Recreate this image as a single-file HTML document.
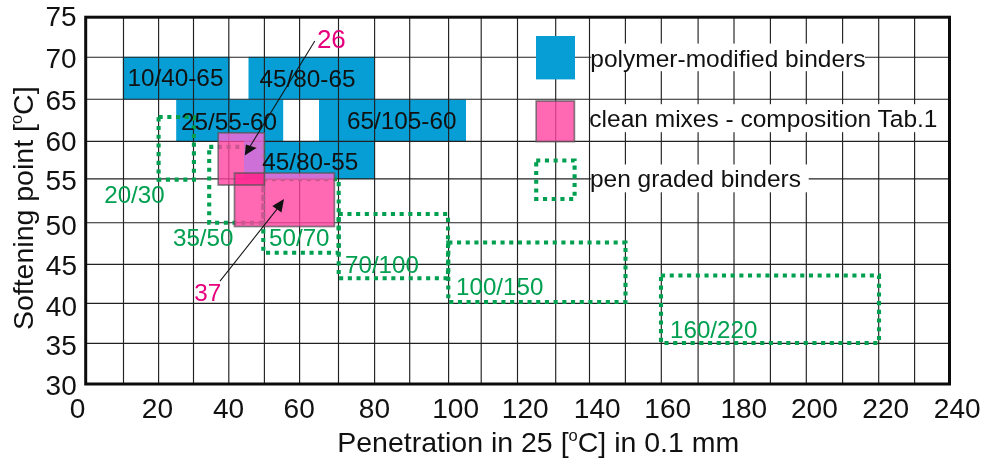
<!DOCTYPE html>
<html lang="en"><head><meta charset="utf-8"><title>Softening point vs penetration</title>
<style>html,body{margin:0;padding:0;background:#fff}svg{display:block}text{white-space:pre}</style></head>
<body><svg width="990" height="468" viewBox="0 0 990 468" style="will-change:transform">
<rect x="0" y="0" width="990" height="468" fill="#fff"/>
<rect x="122.8" y="56.8" width="106.9" height="42.7" fill="#069ed4"/>
<rect x="248.5" y="56.8" width="125.5" height="42.7" fill="#069ed4"/>
<rect x="176.2" y="99.5" width="107.0" height="41.5" fill="#069ed4"/>
<rect x="319.0" y="99.5" width="147.0" height="41.5" fill="#069ed4"/>
<rect x="244.0" y="141.0" width="130.0" height="38.0" fill="#069ed4"/>
<g stroke="#222" stroke-width="1.15" fill="none">
<path d="M123.5 17.2V384.0M158.6 17.2V384.0M193.5 17.2V384.0M228.8 17.2V384.0M264.4 17.2V384.0M299.6 17.2V384.0M338.5 17.2V384.0M374.6 17.2V384.0M409.7 17.2V384.0M448.6 17.2V384.0M481.2 17.2V384.0M517.5 17.2V384.0M555.7 17.2V384.0M589.5 17.2V384.0M625.4 17.2V384.0M661.3 17.2V384.0M698.1 17.2V384.0M734 17.2V384.0M770.4 17.2V384.0M806.3 17.2V384.0M842.6 17.2V384.0M878.7 17.2V384.0M914.6 17.2V384.0M85.7 57.2H949.5M85.7 99.2H949.5M85.7 141.3H949.5M85.7 178.9H949.5M85.7 222.7H949.5M85.7 264.4H949.5M85.7 303.3H949.5M85.7 343.3H949.5"/>
</g>
<rect x="85.7" y="17.2" width="863.8" height="366.8" fill="none" stroke="#0c0c0c" stroke-width="3"/>
<rect x="591.3" y="43.6" width="273.7" height="27.6" fill="#fff"/>
<rect x="591.3" y="104.2" width="346.7" height="28.0" fill="#fff"/>
<rect x="591.3" y="164.5" width="217.4" height="27.8" fill="#fff"/>
<rect x="536.0" y="36.0" width="39.0" height="43.4" fill="#069ed4"/>
<g fill="none" stroke="#00a050" stroke-width="4.1" stroke-dasharray="4.1 4.6">
<path d="M158.6 117H193.9V179.6H158.6Z"/>
<path d="M209.2 146.9H263.3V222.7H209.2Z"/>
<path d="M263.3 179.2H338.7V252.7H263.3Z"/>
<path d="M338.7 214H448V278.3H338.7Z"/>
<path d="M448.3 242.5H625.5V302H448.3Z"/>
<path d="M661 275.5H879V343H661Z"/>
<path d="M536.2 160.5H574.6V199H536.2Z"/>
</g>
<g fill-opacity="0.8">
<rect x="218.2" y="132.8" width="46.2" height="8.2" fill="#ff64d7"/>
<rect x="218.2" y="141.0" width="25.8" height="32.0" fill="#ff44a1"/>
<rect x="218.2" y="173.0" width="16.3" height="12.0" fill="#ff44a1"/>
<rect x="244.0" y="141.0" width="20.4" height="32.0" fill="#ff64d7"/>
<rect x="264.4" y="173.0" width="70.0" height="6.0" fill="#ff64d7"/>
<rect x="264.4" y="179.0" width="70.0" height="47.5" fill="#ff44a1"/>
<rect x="234.5" y="185.0" width="29.9" height="41.5" fill="#ff44a1"/>
</g>
<rect x="234.5" y="173.0" width="29.9" height="12.0" fill="#ff2a94" fill-opacity="0.97"/>
<rect x="536.2" y="101.0" width="38.2" height="40.6" fill="#ff44a1" fill-opacity="0.8"/>
<rect x="218.2" y="132.8" width="46.2" height="52.2" fill="none" stroke="#555" stroke-opacity="0.72" stroke-width="1.7"/>
<rect x="234.5" y="173.0" width="99.9" height="53.5" fill="none" stroke="#555" stroke-opacity="0.72" stroke-width="1.7"/>
<rect x="536.2" y="101.0" width="38.2" height="40.6" fill="none" stroke="#555" stroke-opacity="0.72" stroke-width="1.7"/>
<g stroke="#111" stroke-width="1.05" fill="#111">
<path d="M314.8 40.9L250 146.5" fill="none"/>
<path d="M244.7 155.6L245.9 144.4L256.6 147.9Z" stroke="none"/>
<path d="M220 281.1L277 209.2" fill="none"/>
<path d="M284 199.1L272.3 205.9L281.5 212.4Z" stroke="none"/>
</g>
<g font-family="'Liberation Sans', Arial, sans-serif">
<text transform="translate(45.44 25.76) scale(1.0000 1)" font-size="27.96" fill="#111">75</text>
<text transform="translate(45.44 68.10) scale(1.0000 1)" font-size="27.96" fill="#111">70</text>
<text transform="translate(45.44 110.35) scale(1.0000 1)" font-size="27.96" fill="#111">65</text>
<text transform="translate(45.44 151.15) scale(1.0000 1)" font-size="27.96" fill="#111">60</text>
<text transform="translate(45.58 189.91) scale(1.0000 1)" font-size="27.96" fill="#111">55</text>
<text transform="translate(45.58 235.05) scale(1.0000 1)" font-size="27.96" fill="#111">50</text>
<text transform="translate(45.86 275.21) scale(1.0000 1)" font-size="27.96" fill="#111">45</text>
<text transform="translate(45.86 315.65) scale(1.0000 1)" font-size="27.96" fill="#111">40</text>
<text transform="translate(45.58 354.50) scale(1.0000 1)" font-size="27.96" fill="#111">35</text>
<text transform="translate(45.58 395.00) scale(1.0000 1)" font-size="27.96" fill="#111">30</text>
<text transform="translate(69.69 417.89) scale(1.0000 1)" font-size="28.09" fill="#111">0</text>
<text transform="translate(141.87 417.89) scale(1.0000 1)" font-size="28.09" fill="#111">20</text>
<text transform="translate(212.99 417.89) scale(1.0000 1)" font-size="28.09" fill="#111">40</text>
<text transform="translate(283.57 417.89) scale(1.0000 1)" font-size="28.09" fill="#111">60</text>
<text transform="translate(358.81 417.89) scale(1.0000 1)" font-size="28.09" fill="#111">80</text>
<text transform="translate(432.23 417.89) scale(1.0000 1)" font-size="28.09" fill="#111">100</text>
<text transform="translate(501.83 417.89) scale(1.0000 1)" font-size="28.09" fill="#111">120</text>
<text transform="translate(573.83 417.89) scale(1.0000 1)" font-size="28.09" fill="#111">140</text>
<text transform="translate(644.28 417.89) scale(1.0000 1)" font-size="28.09" fill="#111">160</text>
<text transform="translate(720.38 417.89) scale(1.0000 1)" font-size="28.09" fill="#111">180</text>
<text transform="translate(790.91 417.89) scale(1.0000 1)" font-size="28.09" fill="#111">200</text>
<text transform="translate(862.26 417.89) scale(1.0000 1)" font-size="28.09" fill="#111">220</text>
<text transform="translate(933.81 417.89) scale(1.0000 1)" font-size="28.09" fill="#111">240</text>
<text transform="translate(127.39 86.31) scale(1.0000 1)" font-size="24.34" fill="#111">10/40-65</text>
<text transform="translate(259.47 86.61) scale(1.0000 1)" font-size="24.34" fill="#111">45/80-65</text>
<text transform="translate(181.01 129.61) scale(1.0000 1)" font-size="24.34" fill="#111">25/55-60</text>
<text transform="translate(346.96 128.66) scale(1.0000 1)" font-size="24.34" fill="#111">65/105-60</text>
<text transform="translate(262.17 169.81) scale(1.0000 1)" font-size="24.34" fill="#111">45/80-55</text>
<text transform="translate(104.23 203.10) scale(1.0000 1)" font-size="24.16" fill="#00a050">20/30</text>
<text transform="translate(173.00 246.30) scale(1.0000 1)" font-size="24.16" fill="#00a050">35/50</text>
<text transform="translate(269.10 246.25) scale(1.0000 1)" font-size="24.16" fill="#00a050">50/70</text>
<text transform="translate(345.01 272.65) scale(1.0000 1)" font-size="24.16" fill="#00a050">70/100</text>
<text transform="translate(456.06 294.65) scale(1.0000 1)" font-size="24.16" fill="#00a050">100/150</text>
<text transform="translate(670.06 337.50) scale(1.0000 1)" font-size="24.16" fill="#00a050">160/220</text>
<text transform="translate(316.90 48.21) scale(1.0000 1)" font-size="25.98" fill="#e6007e">26</text>
<text transform="translate(194.23 301.04) scale(1.0000 1)" font-size="24.31" fill="#e6007e">37</text>
<text transform="translate(590.37 66.67) scale(1.0000 1)" font-size="24.51" fill="#111">polymer-modified binders</text>
<text transform="translate(589.34 126.72) scale(1.0000 1)" font-size="24.51" fill="#111">clean mixes - composition Tab.1</text>
<text transform="translate(589.90 186.57) scale(1.0000 1)" font-size="24.51" fill="#111">pen graded binders</text>
<text transform="translate(337.22 452.11) scale(1.0000 1)" font-size="28.50" fill="#111">Penetration in 25 [<tspan style="font-size:58%" dy="-0.66em">o</tspan><tspan dy="0.383em">C]</tspan> in 0.1 mm</text>
<text transform="translate(33.01 330.08) rotate(-90) scale(1.0000 1)" font-size="28.50" fill="#111">Softening point [<tspan style="font-size:58%" dy="-0.66em">o</tspan><tspan dy="0.383em">C]</tspan></text>
</g>
</svg></body></html>
